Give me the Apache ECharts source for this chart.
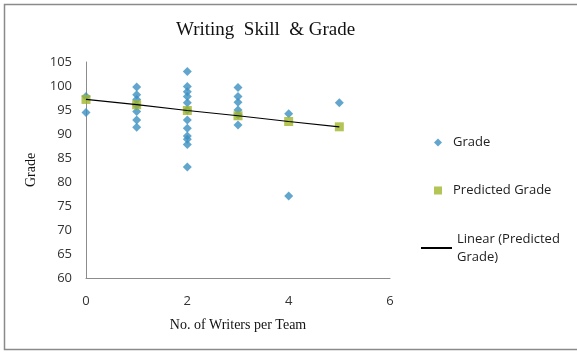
<!DOCTYPE html>
<html>
<head>
<meta charset="utf-8">
<script src="https://cdn.jsdelivr.net/npm/echarts@6/dist/echarts.min.js"></script>
<style>
  html, body { margin: 0; padding: 0; background: #fff; }
  #chart { width: 577px; height: 352px; }
</style>
</head>
<body>
<div id="chart"></div>
<script>
// Team sizes (x) and the grades observed for each size
const teamSizes = [0, 1, 2, 3, 4, 5];
const gradesSize0 = [97.8, 94.5];
const gradesSize1 = [99.8, 98.2, 97.2, 96.0, 94.7, 92.9, 91.4];
const gradesSize2 = [103.0, 99.9, 98.8, 97.8, 96.5, 95.0, 92.9, 91.2, 89.6, 88.9, 87.8, 83.1];
const gradesSize3 = [99.7, 97.8, 96.6, 95.0, 94.0, 91.9];
const gradesSize4 = [94.2, 77.1];
const gradesSize5 = [96.5];
// Regression-predicted grade per team size
const predictedGrade = [97.2, 96.1, 94.9, 93.8, 92.6, 91.5];

const xTicks = { min: 0, max: 6, step: 2 };
const yTicks = { min: 60, max: 105, step: 5 };

const gradeGroups = [gradesSize0, gradesSize1, gradesSize2, gradesSize3, gradesSize4, gradesSize5];
const gradePoints = [];
gradeGroups.forEach((grades, i) => grades.forEach(g => gradePoints.push([teamSizes[i], g])));
const predictedPoints = teamSizes.map((x, i) => [x, predictedGrade[i]]);

const tickFont = { fontFamily: 'Open Sans', fontSize: 13, color: '#333' };
const serif = 'Liberation Serif';
const legendText = { fontFamily: 'Open Sans', fontSize: 13, color: '#222' };

const chart = echarts.init(document.getElementById('chart'), null, { renderer: 'canvas' });
chart.setOption({
  animation: false,
  backgroundColor: '#fff',
  graphic: [
    {
      type: 'rect',
      shape: { x: 4.5, y: 4.5, width: 620, height: 345 },
      style: { fill: 'none', stroke: '#8a8a8a', lineWidth: 1.5 },
      silent: true
    },
    {
      type: 'text',
      left: 176, top: 21,
      style: {
        text: 'Writing  Skill  & Grade',
        font: '19px "Liberation Serif"',
        fill: '#111'
      }
    }
  ],
  grid: { left: 86, top: 62, right: 187, bottom: 74 },
  xAxis: {
    type: 'value',
    min: xTicks.min, max: xTicks.max, interval: xTicks.step,
    name: 'No. of Writers per Team',
    nameLocation: 'middle',
    nameGap: 40,
    nameTextStyle: { fontFamily: serif, fontSize: 14, color: '#111' },
    axisLine: { show: true, lineStyle: { color: '#8c8c8c', width: 1 } },
    axisTick: { show: false },
    splitLine: { show: false },
    axisLabel: Object.assign({ margin: 17 }, tickFont)
  },
  yAxis: {
    type: 'value',
    min: yTicks.min, max: yTicks.max, interval: yTicks.step,
    name: 'Grade',
    nameLocation: 'middle',
    nameGap: 44,
    nameRotate: 90,
    nameTextStyle: { fontFamily: serif, fontSize: 14, color: '#111' },
    axisLine: { show: true, lineStyle: { color: '#8c8c8c', width: 1 } },
    axisTick: { show: false },
    splitLine: { show: false },
    axisLabel: Object.assign({ margin: 14 }, tickFont)
  },
  legend: [
    {
      data: [{ name: 'Grade', textStyle: { padding: [0, 0, 0, 6] } }],
      left: 429, top: 131,
      itemWidth: 8, itemHeight: 8, textStyle: legendText
    },
    {
      data: [{ name: 'Predicted Grade', textStyle: { padding: [0, 0, 0, 6] } }],
      left: 429, top: 179,
      itemWidth: 8, itemHeight: 8, textStyle: legendText
    },
    {
      data: [{ name: 'Linear (Predicted Grade)', textStyle: { padding: [18, 0, 0, 0], lineHeight: 18 } }],
      left: 415, top: 216,
      itemWidth: 31, itemHeight: 1, itemGap: 0,
      textStyle: legendText,
      formatter: () => 'Linear (Predicted\nGrade)'
    }
  ],
  series: [
    {
      name: 'Grade',
      type: 'scatter',
      symbol: 'diamond',
      symbolSize: 9,
      itemStyle: { color: '#3b90c2' },
      data: gradePoints
    },
    {
      name: 'Predicted Grade',
      type: 'scatter',
      symbol: 'rect',
      symbolSize: 9,
      itemStyle: { color: '#a1b52a' },
      data: predictedPoints
    },
    {
      name: 'Linear (Predicted Grade)',
      type: 'line',
      symbol: 'none',
      showSymbol: false,
      lineStyle: { color: '#000', width: 1.2 },
      itemStyle: { color: '#000' },
      z: 5,
      data: predictedPoints
    }
  ]
});
</script>
</body>
</html>
